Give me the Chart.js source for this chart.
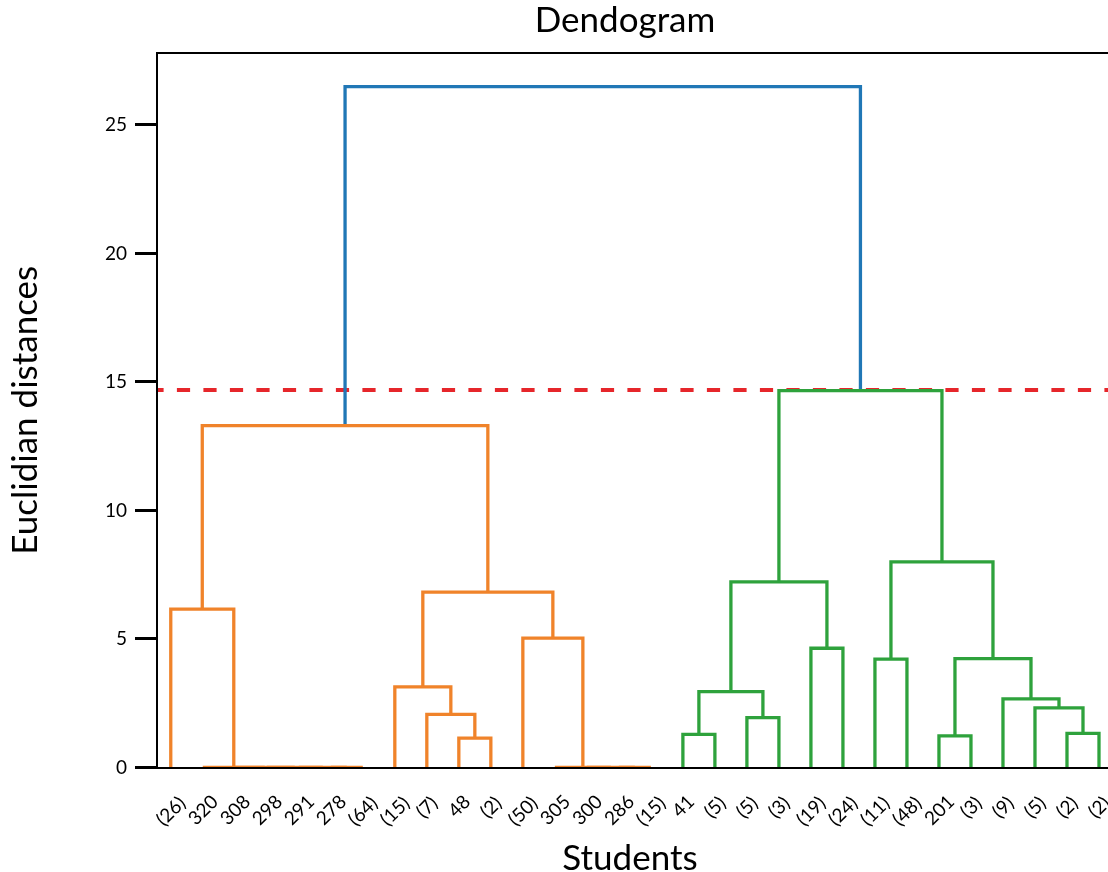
<!DOCTYPE html>
<html>
<head>
<meta charset="utf-8">
<title>Dendogram</title>
<script src="https://cdn.jsdelivr.net/npm/chart.js@4.4.1/dist/chart.umd.min.js"></script>
<style>
  html, body { margin: 0; padding: 0; background: #fff; overflow: hidden; }
  canvas { display: block; }
</style>
</head>
<body>
<canvas id="dendro" width="1115" height="872"></canvas>
<script>
// ---------- leaves (order as drawn, left to right) ----------
const leafLabels = ['(26)', '320', '308', '298', '291', '278', '(64)', '(15)', '(7)', '48', '(2)',
    '(50)', '305', '300', '286', '(15)', '41', '(5)', '(5)', '(3)', '(19)', '(24)', '(11)', '(48)',
    '201', '(3)', '(9)', '(5)', '(2)', '(2)'];
const leafPos = [5, 15, 25, 35, 45, 55, 65, 75, 85, 95, 105, 115, 125, 135, 145, 155,
    165, 175, 185, 195, 205, 215, 225, 235, 245, 255, 265, 275, 285, 295];

// ---------- links, scipy style (x of the 4 corners / height of the 4 corners) ----------
const icoord = [
    [55, 55, 65, 65],
    [45, 45, 60, 60],
    [35, 35, 52.5, 52.5],
    [25, 25, 43.75, 43.75],
    [15, 15, 34.375, 34.375],
    [5, 5, 24.6875, 24.6875],
    [95, 95, 105, 105],
    [85, 85, 100, 100],
    [75, 75, 92.5, 92.5],
    [145, 145, 155, 155],
    [135, 135, 150, 150],
    [125, 125, 142.5, 142.5],
    [115, 115, 133.75, 133.75],
    [83.75, 83.75, 124.375, 124.375],
    [14.84375, 14.84375, 104.0625, 104.0625],
    [165, 165, 175, 175],
    [185, 185, 195, 195],
    [170, 170, 190, 190],
    [205, 205, 215, 215],
    [180, 180, 210, 210],
    [225, 225, 235, 235],
    [245, 245, 255, 255],
    [285, 285, 295, 295],
    [275, 275, 290, 290],
    [265, 265, 282.5, 282.5],
    [250, 250, 273.75, 273.75],
    [230, 230, 261.875, 261.875],
    [195, 195, 245.9375, 245.9375],
    [59.453125, 59.453125, 220.46875, 220.46875]
];
const dcoord = [
    [0, 0, 0, 0],
    [0, 0, 0, 0],
    [0, 0, 0, 0],
    [0, 0, 0, 0],
    [0, 0, 0, 0],
    [0, 6.16, 6.16, 0],
    [0, 1.14, 1.14, 0],
    [0, 2.07, 2.07, 1.14],
    [0, 3.14, 3.14, 2.07],
    [0, 0, 0, 0],
    [0, 0, 0, 0],
    [0, 0, 0, 0],
    [0, 5.03, 5.03, 0],
    [3.14, 6.82, 6.82, 5.03],
    [6.16, 13.30, 13.30, 6.82],
    [0, 1.29, 1.29, 0],
    [0, 1.94, 1.94, 0],
    [1.29, 2.95, 2.95, 1.94],
    [0, 4.64, 4.64, 0],
    [2.95, 7.22, 7.22, 4.64],
    [0, 4.22, 4.22, 0],
    [0, 1.23, 1.23, 0],
    [0, 1.33, 1.33, 0],
    [0, 2.32, 2.32, 1.33],
    [0, 2.67, 2.67, 2.32],
    [1.23, 4.24, 4.24, 2.67],
    [4.22, 8.00, 8.00, 4.24],
    [7.22, 14.66, 14.66, 8.00],
    [13.30, 26.49, 26.49, 14.66]
];
const linkColors = ['C1', 'C1', 'C1', 'C1', 'C1', 'C1', 'C1', 'C1', 'C1', 'C1', 'C1', 'C1', 'C1', 'C1', 'C1',
    'C2', 'C2', 'C2', 'C2', 'C2', 'C2', 'C2', 'C2', 'C2', 'C2', 'C2', 'C2', 'C2',
    'C0'];

const cutHeight = 14.69;
const yTicks = [0, 5, 10, 15, 20, 25];

const palette = { C0: '#2077b6', C1: '#f0832a', C2: '#2ea23c' };
const cutColor = '#e6262b';

// ---------- plugins ----------
// top spine (left / bottom come from the axes)
const frame = {
    id: 'frame',
    afterDraw(chart) {
        const { ctx, chartArea: a } = chart;
        ctx.save();
        ctx.strokeStyle = '#000';
        ctx.lineWidth = 2;
        ctx.beginPath();
        ctx.moveTo(a.left - 1, a.top);
        ctx.lineTo(a.right, a.top);
        ctx.lineTo(a.right, a.bottom);
        ctx.stroke();
        ctx.restore();
    }
};

// figure title and x label (the original figure centres them a bit left of the axes centre)
const captions = {
    id: 'captions',
    afterDraw(chart) {
        const { ctx } = chart;
        ctx.save();
        ctx.font = '35px Lato';
        ctx.fillStyle = '#000';
        ctx.textAlign = 'center';
        ctx.textBaseline = 'alphabetic';
        ctx.fillText('Dendogram', 625, 32);
        ctx.fillText('Students', 630, 869.5);
        ctx.restore();
    }
};

// leaf labels: rotated 45deg and centred under each leaf
const leafTicks = {
    id: 'leafTicks',
    afterDraw(chart) {
        const { ctx } = chart;
        const xs = chart.scales.x;
        ctx.save();
        ctx.font = '19px Lato';
        ctx.fillStyle = '#000';
        ctx.textAlign = 'center';
        ctx.textBaseline = 'alphabetic';
        const top = xs.top + 25.5;
        leafLabels.forEach((lab, i) => {
            const m = ctx.measureText(lab);
            const asc = m.actualBoundingBoxAscent, desc = m.actualBoundingBoxDescent;
            const side = (m.width + asc + desc) * Math.SQRT1_2;
            const cx = xs.getPixelForValue(leafPos[i]);
            const cy = top + side / 2;
            ctx.save();
            ctx.translate(cx, cy);
            ctx.rotate(-Math.PI / 4);
            ctx.fillText(lab, 0, (asc - desc) / 2);
            ctx.restore();
        });
        ctx.restore();
    }
};

function buildDatasets() {
    const sets = icoord.map((xs, k) => ({
        data: xs.map((x, j) => ({ x: x, y: dcoord[k][j] })),
        borderColor: palette[linkColors[k]],
        borderWidth: 3.3,
        showLine: true,
        pointRadius: 0,
        tension: 0,
        order: 1
    }));
    // cut line sits under the tree
    sets.push({
        data: [{ x: 0.7, y: cutHeight }, { x: 300, y: cutHeight }],
        borderColor: cutColor,
        borderWidth: 4,
        borderDash: [13.2, 13.3],
        borderDashOffset: 6.6,
        showLine: true,
        pointRadius: 0,
        order: 2
    });
    return sets;
}

function drawChart() {
    Chart.defaults.font.family = 'Lato';
    Chart.defaults.color = '#000';
    const ctx = document.getElementById('dendro').getContext('2d');
    new Chart(ctx, {
        type: 'scatter',
        data: { datasets: buildDatasets() },
        options: {
            responsive: false,
            animation: false,
            events: [],
            layout: { padding: { top: 53, left: 0, right: 0, bottom: 0 } },
            plugins: {
                legend: { display: false },
                tooltip: { enabled: false },
                title: { display: false }
            },
            scales: {
                x: {
                    type: 'linear',
                    min: 0.7,
                    max: 300,
                    grid: { display: false },
                    border: { display: true, color: '#000', width: 2, z: 1 },
                    ticks: { display: false },
                    title: { display: false },
                    afterFit: s => { s.height = 104.5; }
                },
                y: {
                    type: 'linear',
                    min: 0,
                    max: 27.8,
                    afterBuildTicks: s => { s.ticks = yTicks.map(v => ({ value: v })); },
                    grid: {
                        display: true,
                        drawOnChartArea: false,
                        drawTicks: true,
                        tickLength: 22,
                        tickWidth: 3,
                        tickColor: '#000'
                    },
                    border: { display: true, color: '#000', width: 2, z: 1 },
                    ticks: {
                        color: '#000',
                        font: { size: 19 },
                        padding: 8
                    },
                    title: {
                        display: true,
                        text: 'Euclidian distances',
                        color: '#000',
                        font: { size: 35 },
                        padding: { top: 5, bottom: 0 }
                    },
                    afterFit: s => { s.width = 157; }
                }
            }
        },
        plugins: [frame, captions, leafTicks]
    });
}

window.addEventListener('DOMContentLoaded', () => {
    const ready = document.fonts && document.fonts.load
        ? Promise.all([document.fonts.load('19px Lato'), document.fonts.load('35px Lato')])
        : Promise.resolve();
    ready.then(drawChart, drawChart);
});
</script>
</body>
</html>
